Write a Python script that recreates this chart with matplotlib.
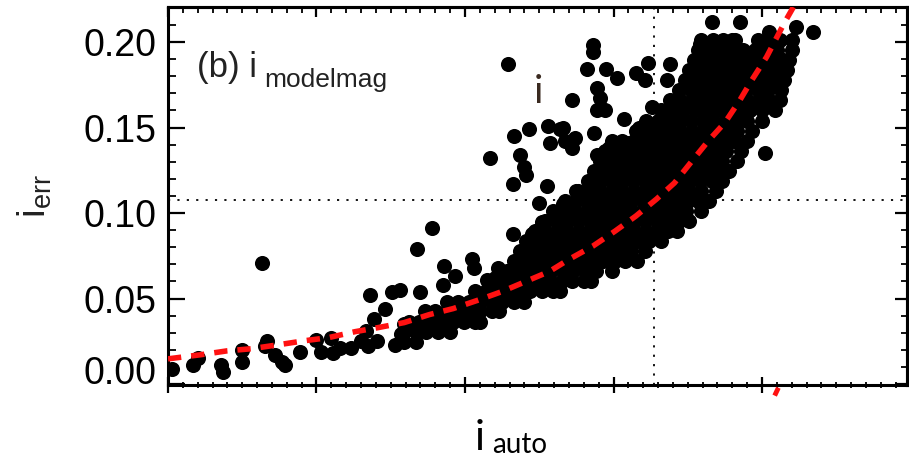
import matplotlib
matplotlib.use("Agg")
import matplotlib.pyplot as plt
from matplotlib.ticker import MultipleLocator, NullFormatter

# ---------------- data ----------------
# isolated / sparse points: (i_auto magnitude, i_err)
sparse_mag = [18.63, 18.03, 18.17, 18.20, 18.36, 18.37, 18.50, 18.50, 18.65, 18.67,
              18.72, 18.77, 18.79, 18.89, 19.00, 19.03, 19.10, 19.11, 19.16, 19.23,
              19.30, 19.35, 19.33, 19.41, 19.36, 19.51, 19.39, 19.46, 19.53, 19.57,
              19.59, 19.68, 19.78, 19.86, 19.93, 19.85, 19.70, 19.56, 20.05, 20.06,
              20.15, 20.22, 20.20, 20.32, 20.45, 20.52, 20.50, 20.66, 20.29, 20.17,
              20.33, 20.43, 20.56, 20.64, 20.57, 20.67, 20.37, 20.40, 20.41, 20.32,
              20.55, 20.72, 20.86, 20.86, 20.82, 20.95, 21.02, 21.15, 21.23, 21.21,
              21.38, 21.36, 20.89, 20.91, 20.89, 20.94, 20.87, 20.72, 21.07, 21.26,
              20.66, 20.74, 20.89, 20.97, 20.97, 21.09, 21.17, 21.31, 21.24, 20.89,
              20.75, 21.66, 21.85, 22.05, 22.23, 22.34, 21.80, 21.58, 22.02]
sparse_err = [0.071, 0.009, 0.011, 0.015, 0.011, 0.007, 0.020, 0.013, 0.022, 0.025,
              0.017, 0.013, 0.011, 0.019, 0.026, 0.019, 0.027, 0.018, 0.021, 0.021,
              0.025, 0.022, 0.031, 0.025, 0.052, 0.054, 0.038, 0.044, 0.023, 0.029,
              0.035, 0.079, 0.091, 0.069, 0.063, 0.058, 0.054, 0.055, 0.073, 0.068,
              0.061, 0.068, 0.062, 0.088, 0.088, 0.095, 0.106, 0.105, 0.187, 0.132,
              0.145, 0.149, 0.151, 0.149, 0.141, 0.142, 0.134, 0.127, 0.122, 0.117,
              0.116, 0.138, 0.198, 0.194, 0.184, 0.184, 0.179, 0.182, 0.188, 0.178,
              0.187, 0.178, 0.173, 0.167, 0.160, 0.160, 0.147, 0.166, 0.155, 0.162,
              0.150, 0.144, 0.134, 0.129, 0.138, 0.141, 0.150, 0.152, 0.144, 0.118,
              0.113, 0.212, 0.212, 0.206, 0.209, 0.206, 0.201, 0.199, 0.135]

# dense part of the cloud, read row by row: (i_err, [i_auto ...])
dense_rows = [
    (0.2012, [21.59, 21.67, 21.74, 21.82, 21.97, 22.04, 22.12, 22.20]),
    (0.1953, [21.57, 21.65, 21.72, 21.80, 21.87, 21.95, 22.02, 22.10, 22.20]),
    (0.1894, [21.54, 21.62, 21.69, 21.77, 21.84, 21.92, 21.99, 22.07, 22.14, 22.18]),
    (0.1835, [21.51, 21.59, 21.66, 21.74, 21.81, 21.89, 21.96, 22.04, 22.11, 22.17]),
    (0.1776, [21.48, 21.55, 21.63, 21.70, 21.78, 21.85, 21.93, 22.00, 22.08, 22.15]),
    (0.1718, [21.44, 21.52, 21.59, 21.67, 21.74, 21.82, 21.89, 21.97, 22.04, 22.13]),
    (0.1659, [21.38, 21.45, 21.53, 21.60, 21.68, 21.75, 21.83, 21.90, 21.98, 22.05, 22.12]),
    (0.1600, [21.32, 21.40, 21.47, 21.55, 21.62, 21.70, 21.77, 21.85, 21.92, 22.00, 22.09]),
    (0.1541, [21.22, 21.30, 21.37, 21.45, 21.52, 21.60, 21.67, 21.75, 21.82, 21.90, 22.00]),
    (0.1482, [21.15, 21.23, 21.30, 21.38, 21.45, 21.53, 21.60, 21.68, 21.75, 21.83, 21.93]),
    (0.1424, [20.99, 21.06, 21.14, 21.21, 21.29, 21.36, 21.44, 21.51, 21.59, 21.66, 21.74, 21.81, 21.90]),
    (0.1365, [20.94, 21.01, 21.09, 21.16, 21.24, 21.31, 21.39, 21.46, 21.54, 21.61, 21.69, 21.76, 21.86]),
    (0.1306, [20.91, 20.98, 21.06, 21.13, 21.21, 21.28, 21.36, 21.43, 21.51, 21.58, 21.66, 21.73, 21.83]),
    (0.1247, [20.87, 20.95, 21.02, 21.10, 21.17, 21.25, 21.32, 21.40, 21.47, 21.55, 21.62, 21.70, 21.78]),
    (0.1188, [20.83, 20.91, 20.98, 21.06, 21.13, 21.21, 21.28, 21.36, 21.43, 21.51, 21.58, 21.66, 21.73]),
    (0.1129, [20.76, 20.84, 20.91, 20.99, 21.06, 21.14, 21.21, 21.29, 21.36, 21.44, 21.51, 21.59, 21.69]),
    (0.1071, [20.67, 20.75, 20.82, 20.90, 20.97, 21.05, 21.12, 21.20, 21.27, 21.35, 21.42, 21.50, 21.57, 21.64]),
    (0.1012, [20.59, 20.67, 20.74, 20.82, 20.89, 20.97, 21.04, 21.12, 21.19, 21.27, 21.34, 21.42, 21.49, 21.59]),
    (0.0953, [20.54, 20.61, 20.69, 20.76, 20.84, 20.91, 20.99, 21.06, 21.14, 21.21, 21.29, 21.36, 21.44, 21.51]),
    (0.0894, [20.47, 20.54, 20.62, 20.69, 20.77, 20.84, 20.92, 20.99, 21.07, 21.14, 21.22, 21.29, 21.37, 21.43]),
    (0.0835, [20.41, 20.49, 20.56, 20.64, 20.71, 20.79, 20.86, 20.94, 21.01, 21.09, 21.16, 21.24, 21.32]),
    (0.0776, [20.37, 20.45, 20.52, 20.60, 20.67, 20.75, 20.82, 20.90, 20.97, 21.05, 21.12, 21.21]),
    (0.0718, [20.33, 20.41, 20.48, 20.56, 20.63, 20.71, 20.78, 20.86, 20.93, 21.01, 21.08, 21.16]),
    (0.0659, [20.28, 20.36, 20.43, 20.51, 20.58, 20.66, 20.73, 20.81, 20.88, 20.99]),
    (0.0600, [20.20, 20.27, 20.35, 20.42, 20.50, 20.57, 20.65, 20.72, 20.80, 20.85]),
    (0.0541, [20.07, 20.14, 20.22, 20.29, 20.37, 20.44, 20.52, 20.59, 20.64]),
    (0.0482, [19.88, 19.95, 20.03, 20.10, 20.18, 20.25, 20.33, 20.40]),
    (0.0424, [19.73, 19.80, 19.88, 19.95, 20.03, 20.10, 20.18, 20.23]),
    (0.0365, [19.62, 19.69, 19.77, 19.84, 19.92, 19.99, 20.07, 20.10]),
    (0.0306, [19.59, 19.67, 19.74, 19.82, 19.90]),
    (0.0247, [19.59, 19.67]),
]

# red dashed fitted relation
curve_mag = [18.00, 18.22, 18.40, 18.56, 18.74, 18.92, 19.08, 19.26, 19.41, 19.59,
             19.76, 19.92, 20.10, 20.25, 20.41, 20.57, 20.70, 20.86, 21.01, 21.15,
             21.29, 21.41, 21.53, 21.64, 21.75, 21.85, 21.93, 22.03, 22.10, 22.15,
             22.20, 22.24]
curve_err = [0.0147, 0.0171, 0.0194, 0.0206, 0.0229, 0.0253, 0.0271, 0.0306, 0.0329, 0.0359,
             0.0406, 0.0441, 0.0494, 0.0541, 0.0600, 0.0659, 0.0729, 0.0806, 0.0894, 0.0982,
             0.1082, 0.1176, 0.1306, 0.1424, 0.1529, 0.1659, 0.1776, 0.1912, 0.2029, 0.2112,
             0.2188, 0.2250]
tail_mag = [22.085, 22.11]
tail_err = [-0.0068, -0.0022]

snr10_err = 0.1075
limit_mag = 21.27

y_ticks = [0.00, 0.05, 0.10, 0.15, 0.20]
y_ticklabels = ["0.00", "0.05", "0.10", "0.15", "0.20"]

# ---------------- figure ----------------
all_mag = list(sparse_mag)
all_err = list(sparse_err)
for err, mags in dense_rows:
    all_mag.extend(mags)
    all_err.extend([err] * len(mags))

fig = plt.figure(figsize=(9.09, 4.59), dpi=100)
ax = fig.add_axes([0.1848, 0.1612, 0.813, 0.8235])

ax.axhline(snr10_err, color="black", lw=1.3, dashes=(1.2, 4.0), zorder=1)
ax.axvline(limit_mag, color="black", lw=1.3, dashes=(1.2, 4.0), zorder=1)

ax.scatter(all_mag, all_err, s=118, c="black", linewidths=0, zorder=2)
ax.plot(curve_mag, curve_err, color="#ff1111", lw=4, dashes=(2.4, 1.8),
        dash_capstyle="butt", zorder=3)
ax.plot(tail_mag, tail_err, color="#ff1111", lw=3.5, clip_on=False,
        solid_capstyle="butt", zorder=3)

ax.set_xlim(18.0, 22.976)
ax.set_ylim(-0.0006, 0.2205)

tick_font = "Liberation Sans"
ax.xaxis.set_major_locator(MultipleLocator(1))
ax.xaxis.set_minor_locator(MultipleLocator(0.1))
ax.xaxis.set_major_formatter(NullFormatter())
ax.set_yticks(y_ticks)
ax.set_yticklabels(y_ticklabels, fontsize=27, family=tick_font)
ax.yaxis.set_minor_locator(MultipleLocator(0.01))

ax.tick_params(axis="x", which="major", direction="inout", length=11, width=1.6,
               top=False, labelbottom=False)
ax.tick_params(axis="x", which="minor", direction="inout", length=5, width=1.3, top=False)
ax.tick_params(axis="y", which="major", direction="in", length=12, width=1.6,
               right=False, pad=8)
ax.tick_params(axis="y", which="minor", direction="in", length=6, width=1.3, right=False)

# lowest tick label sits just above the axis
ax.yaxis.get_major_ticks()[0].label1.set_verticalalignment("baseline")

secx = ax.secondary_xaxis("top")
secx.xaxis.set_major_locator(MultipleLocator(1))
secx.xaxis.set_minor_locator(MultipleLocator(0.1))
secx.tick_params(axis="x", which="major", direction="in", length=7, width=1.6, labeltop=False)
secx.tick_params(axis="x", which="minor", direction="in", length=4, width=1.3)
secx.spines["top"].set_linewidth(2.2)

secy = ax.secondary_yaxis("right")
secy.yaxis.set_major_locator(MultipleLocator(0.05))
secy.yaxis.set_minor_locator(MultipleLocator(0.01))
secy.tick_params(axis="y", which="major", direction="in", length=9, width=1.6, labelright=False)
secy.tick_params(axis="y", which="minor", direction="in", length=4, width=1.3)
secy.spines["right"].set_linewidth(2.2)

for sp in ax.spines.values():
    sp.set_linewidth(2.2)

# panel annotation
ax.text(0.039, 0.815, "(b) i", transform=ax.transAxes, fontsize=25,
        family=tick_font, va="baseline", ha="left", color="#222222")
ax.text(0.130, 0.788, "modelmag", transform=ax.transAxes, fontsize=19,
        family=tick_font, va="baseline", ha="left", color="#222222")
ax.text(0.5007, 0.746, "i", transform=ax.transAxes, fontsize=28,
        family="Lato", va="baseline", ha="center", color="#3a2a20")

# axis labels
fig.text(0.0385, 0.573, r"$\mathregular{i_{err}}$", rotation=90, fontsize=28,
         family=tick_font, ha="center", va="center", color="#222222")
fig.text(0.5226, 0.0196, "i", fontsize=30, family="Lato", va="baseline", ha="left")
fig.text(0.5413, 0.013, "auto", fontsize=20, family="Lato", va="baseline", ha="left")

fig.savefig("out.png", dpi=100)
